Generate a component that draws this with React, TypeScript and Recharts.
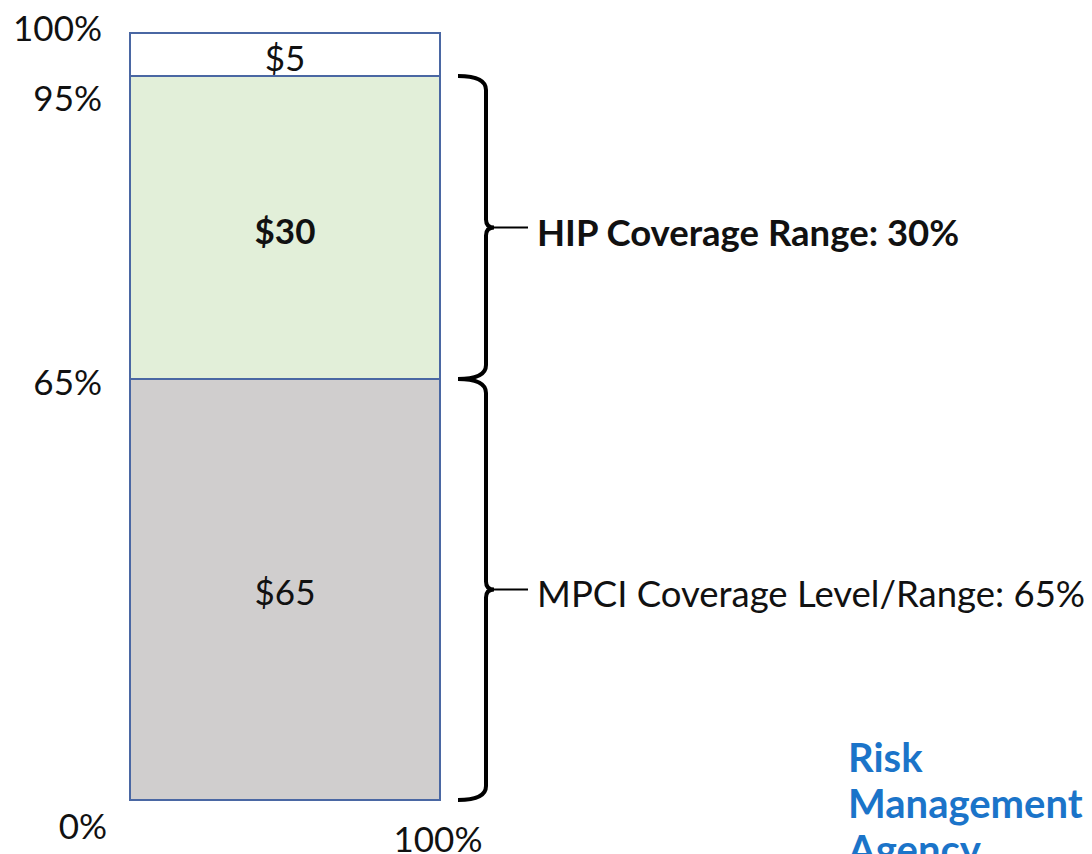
import React from 'react';
import { BarChart, Bar, XAxis, YAxis, LabelList } from 'recharts';

// ---------- data ----------
const categories = ['Coverage'];
const mpciValues = [65];
const hipValues = [30];
const uncoveredValues = [5];
const mpciLabels = ['$65'];
const hipLabels = ['$30'];
const uncoveredLabels = ['$5'];
const yTicks = [0, 65, 95, 100];
const yTickLabels = ['0%', '65%', '95%', '100%'];
const widthEndLabel = '100%';
const hipBraceText = 'HIP Coverage Range: 30%';
const mpciBraceText = 'MPCI Coverage Level/Range: 65%';
const logoLines = ['Risk', 'Management', 'Agency'];

const data = categories.map((name, i) => ({
  name,
  mpci: mpciValues[i],
  hip: hipValues[i],
  top: uncoveredValues[i],
}));

// ---------- illustrative (non-proportional) axis, as in the original diagram ----------
const SCALE_STOPS = [0, 65, 95, 100];
const SCALE_FRACS = [0, 0.5489, 0.9439, 1];

function makeDiagramScale(stops: number[], fracs: number[]): any {
  let dom: number[] = [stops[0], stops[stops.length - 1]];
  let rng: number[] = [0, 1];
  const toFrac = (v: number) => {
    const n = stops.length - 1;
    if (v <= stops[0]) {
      return fracs[0] + ((v - stops[0]) * (fracs[1] - fracs[0])) / (stops[1] - stops[0]);
    }
    for (let i = 1; i <= n; i++) {
      if (v <= stops[i]) {
        const t = (v - stops[i - 1]) / (stops[i] - stops[i - 1]);
        return fracs[i - 1] + t * (fracs[i] - fracs[i - 1]);
      }
    }
    return fracs[n] + ((v - stops[n]) * (fracs[n] - fracs[n - 1])) / (stops[n] - stops[n - 1]);
  };
  const fromFrac = (f: number) => {
    const n = fracs.length - 1;
    for (let i = 1; i <= n; i++) {
      if (f <= fracs[i] || i === n) {
        const t = (f - fracs[i - 1]) / (fracs[i] - fracs[i - 1]);
        return stops[i - 1] + t * (stops[i] - stops[i - 1]);
      }
    }
    return stops[n];
  };
  const scale: any = (v: any) => {
    const f = toFrac(Number(v));
    return rng[0] + f * (rng[rng.length - 1] - rng[0]);
  };
  scale.domain = (d?: any) => {
    if (d === undefined) return dom.slice();
    dom = Array.from(d as number[]).map(Number);
    return scale;
  };
  scale.range = (r?: any) => {
    if (r === undefined) return rng.slice();
    rng = Array.from(r as number[]).map(Number);
    return scale;
  };
  scale.invert = (px: number) => {
    const f = (px - rng[0]) / (rng[rng.length - 1] - rng[0]);
    return fromFrac(f);
  };
  scale.ticks = () => stops.slice();
  scale.tickFormat = () => (v: any) => String(v);
  scale.nice = () => scale;
  scale.clamp = () => scale;
  scale.unknown = () => scale;
  scale.copy = () => {
    const c = makeDiagramScale(stops, fracs);
    c.domain(dom);
    c.range(rng);
    return c;
  };
  return scale;
}

const yScale = makeDiagramScale(SCALE_STOPS, SCALE_FRACS);

// ---------- styles ----------
const FONT = "Lato, 'Open Sans', sans-serif";
const TEXT_COLOR = '#111111';
const BAR_STROKE = '#4a67a3';

const yLabelShift: Record<number, { dx: number; dy: number }> = {
  100: { dx: -28, dy: -6 },
  95: { dx: -28, dy: 21 },
  65: { dx: -28, dy: 2 },
  0: { dx: -23, dy: 25 },
};

const YTick = (props: any) => {
  const { x, y, payload } = props;
  const idx = yTicks.indexOf(payload.value);
  const shift = yLabelShift[payload.value] || { dx: 0, dy: 0 };
  return (
    <text
      x={x + shift.dx}
      y={y + shift.dy}
      textAnchor="end"
      dominantBaseline="central"
      fontFamily={FONT}
      fontSize={35}
      fill={TEXT_COLOR}
    >
      {yTickLabels[idx]}
    </text>
  );
};

// "100%" width marker under the bar's right edge
const WidthEndLabel = (p: any) => {
  const { x, y, width, height } = p;
  return (
    <text
      x={x + width - 2}
      y={y + height + 38}
      textAnchor="middle"
      dominantBaseline="central"
      fontFamily={FONT}
      fontSize={35}
      fill={TEXT_COLOR}
    >
      {widthEndLabel}
    </text>
  );
};

const makeCenterLabel = (labels: string[], bold: boolean) => (p: any) => {
  const { x, y, width, height, index } = p;
  return (
    <text
      x={x + width / 2}
      y={y + height / 2 + 2}
      textAnchor="middle"
      dominantBaseline="central"
      fontFamily={FONT}
      fontSize={35}
      fontWeight={bold ? 700 : 400}
      fill={TEXT_COLOR}
    >
      {labels[index]}
    </text>
  );
};

const makeBrace = (text: string, bold: boolean) => (p: any) => {
  const { x, y, width, height } = p;
  const right = x + width;
  const y0 = y;
  const y1 = y + height;
  const ym = y + height / 2;
  const xh = right + 18;
  const xv = right + 46;
  const xt = right + 54;
  const xl = right + 88;
  const r = 14;
  const d = [
    `M ${xh} ${y0}`,
    `Q ${xv} ${y0} ${xv} ${y0 + r}`,
    `L ${xv} ${ym - 8}`,
    `Q ${xv} ${ym} ${xt} ${ym}`,
    `Q ${xv} ${ym} ${xv} ${ym + 8}`,
    `L ${xv} ${y1 - r}`,
    `Q ${xv} ${y1} ${xh} ${y1}`,
  ].join(' ');
  return (
    <g>
      <path d={d} fill="none" stroke="#000" strokeWidth={4} />
      <line x1={xt} y1={ym} x2={xl} y2={ym} stroke="#000" strokeWidth={2} />
      <text
        x={right + 97}
        y={ym + 4}
        textAnchor="start"
        dominantBaseline="central"
        fontFamily={FONT}
        fontSize={36.5}
        fontWeight={bold ? 700 : 400}
        fill={TEXT_COLOR}
      >
        {text}
      </text>
    </g>
  );
};

export default function App() {
  return (
    <div
      style={{
        position: 'absolute',
        left: 0,
        top: 0,
        width: 1092,
        height: 854,
        overflow: 'hidden',
        background: '#ffffff',
      }}
    >
      <BarChart
        width={1092}
        height={854}
        data={data}
        margin={{ top: 33, right: 652, bottom: 54, left: 0 }}
        barCategoryGap={0}
        style={{ overflow: 'visible' }}
      >
        <XAxis dataKey="name" hide height={0} />
        <YAxis
          type="number"
          domain={[0, 100]}
          scale={yScale}
          ticks={yTicks}
          interval={0}
          width={130}
          axisLine={false}
          tickLine={false}
          tickSize={0}
          tickMargin={0}
          tick={<YTick />}
        />
        <Bar dataKey="mpci" stackId="a" fill="#d0cece" stroke={BAR_STROKE} strokeWidth={2} isAnimationActive={false}>
          <LabelList dataKey="mpci" content={makeCenterLabel(mpciLabels, false)} />
          <LabelList dataKey="mpci" content={makeBrace(mpciBraceText, false)} />
          <LabelList dataKey="mpci" content={WidthEndLabel} />
        </Bar>
        <Bar dataKey="hip" stackId="a" fill="#e2efd9" stroke={BAR_STROKE} strokeWidth={2} isAnimationActive={false}>
          <LabelList dataKey="hip" content={makeCenterLabel(hipLabels, true)} />
          <LabelList dataKey="hip" content={makeBrace(hipBraceText, true)} />
        </Bar>
        <Bar dataKey="top" stackId="a" fill="#ffffff" stroke={BAR_STROKE} strokeWidth={2} isAnimationActive={false}>
          <LabelList dataKey="top" content={makeCenterLabel(uncoveredLabels, false)} />
        </Bar>
      </BarChart>
      <div
        style={{
          position: 'absolute',
          left: 848,
          top: 734,
          fontFamily: FONT,
          fontWeight: 700,
          fontSize: 40,
          lineHeight: '46px',
          color: '#1b74c9',
          whiteSpace: 'nowrap',
        }}
      >
        {logoLines.map((l) => (
          <div key={l}>{l}</div>
        ))}
      </div>
    </div>
  );
}
